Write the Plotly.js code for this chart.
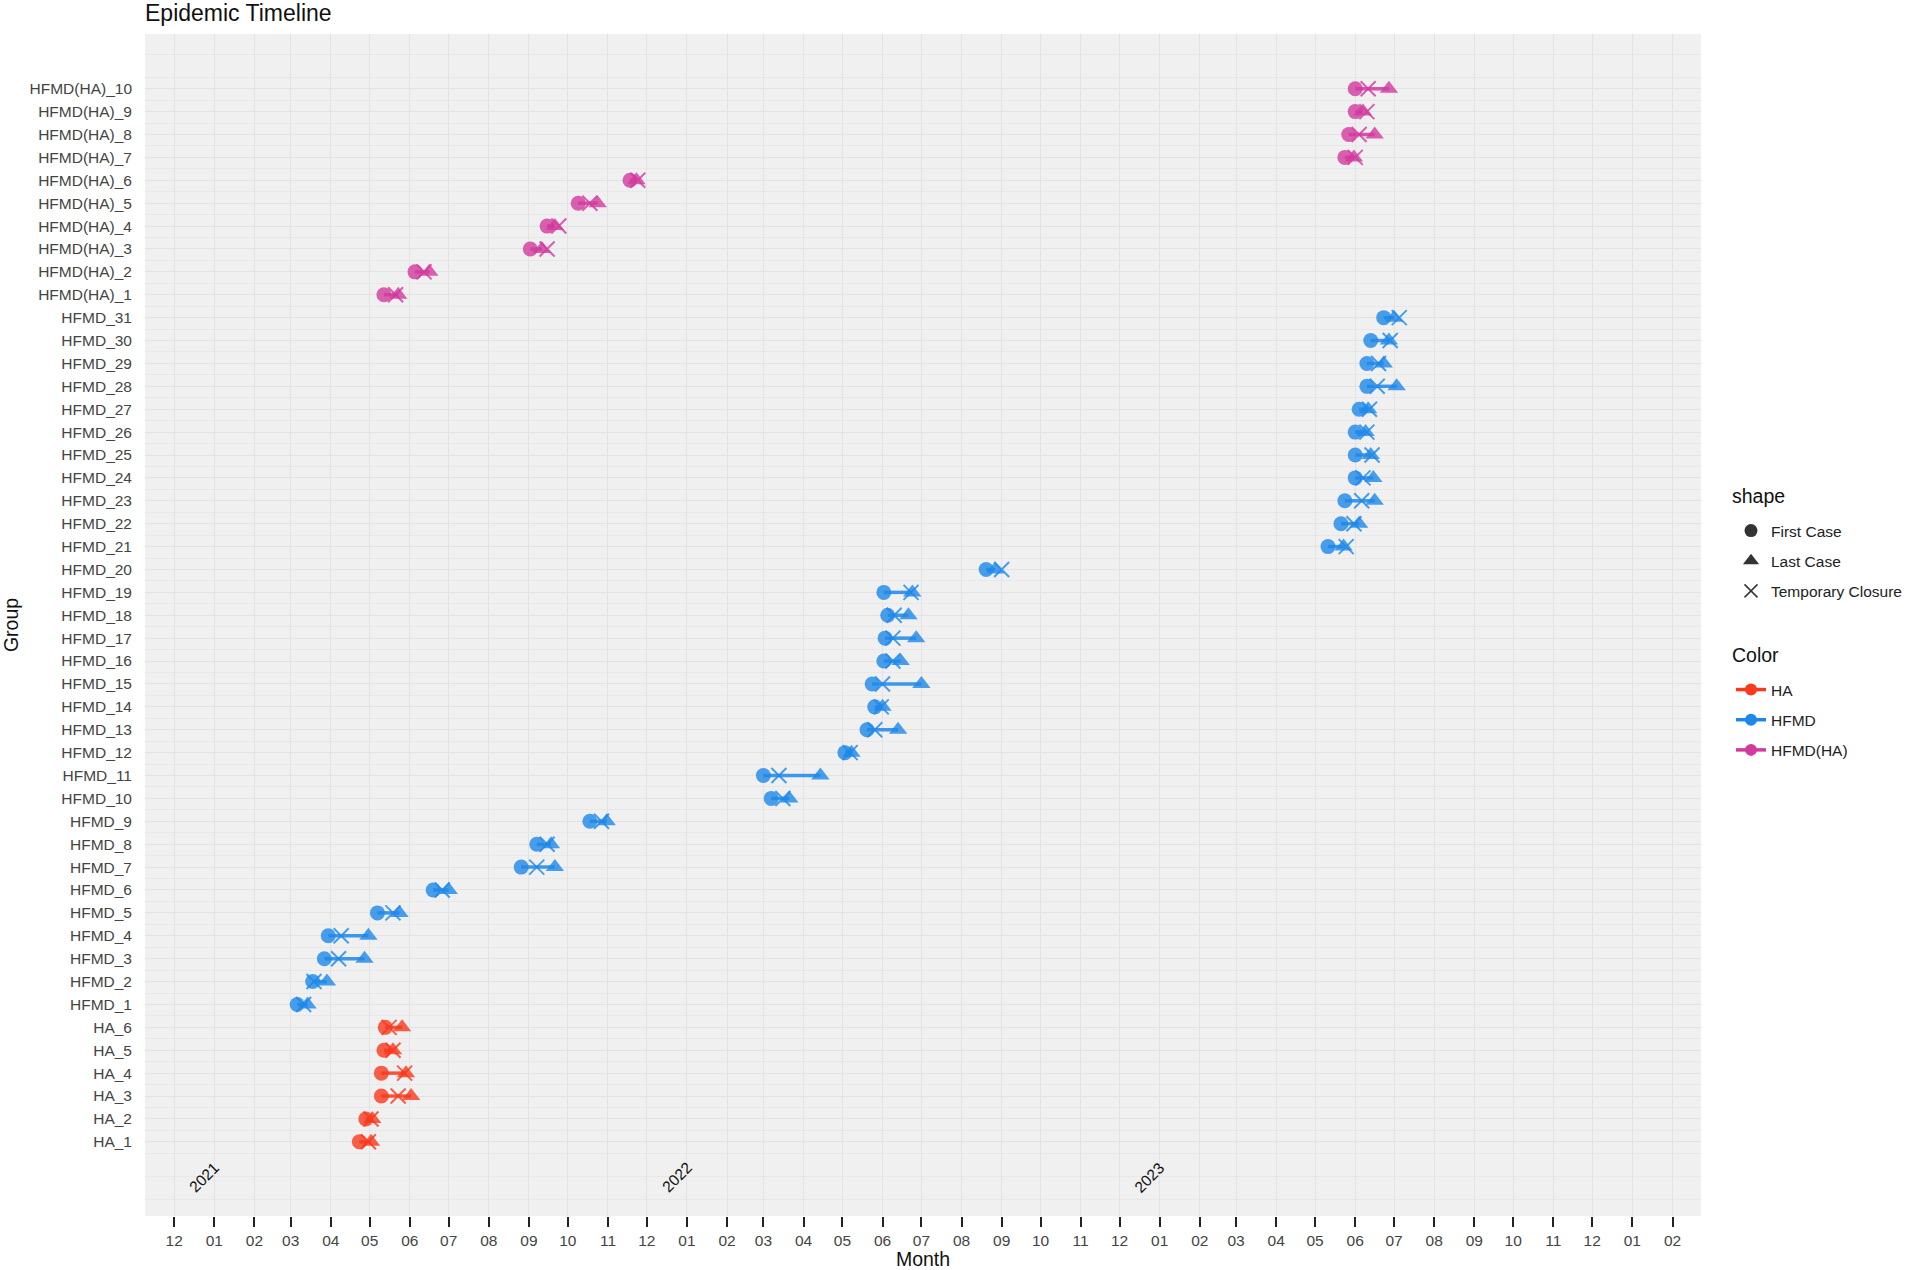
<!DOCTYPE html>
<html>
<head>
<meta charset="utf-8">
<script src="https://cdn.plot.ly/plotly-3.0.1.min.js"></script>
<style>html,body{margin:0;padding:0;background:#fff;}#chart{width:1907px;height:1270px;}</style>
</head>
<body>
<div id="chart"></div>
<script>
// ---------- data ----------
const haGroups = ['HA_1','HA_2','HA_3','HA_4','HA_5','HA_6'];
const haFirst  = ['2021-04-23','2021-04-28','2021-05-10','2021-05-10','2021-05-12','2021-05-13'];
const haClose  = ['2021-04-30','2021-05-02','2021-05-23','2021-05-28','2021-05-19','2021-05-16'];
const haLast   = ['2021-05-02','2021-05-03','2021-06-02','2021-05-29','2021-05-19','2021-05-26'];

const hfmdGroups = ['HFMD_1','HFMD_2','HFMD_3','HFMD_4','HFMD_5','HFMD_6','HFMD_7','HFMD_8','HFMD_9','HFMD_10',
  'HFMD_11','HFMD_12','HFMD_13','HFMD_14','HFMD_15','HFMD_16','HFMD_17','HFMD_18','HFMD_19','HFMD_20',
  'HFMD_21','HFMD_22','HFMD_23','HFMD_24','HFMD_25','HFMD_26','HFMD_27','HFMD_28','HFMD_29','HFMD_30','HFMD_31'];
const hfmdFirst = ['2021-03-06','2021-03-18','2021-03-27','2021-03-30','2021-05-07','2021-06-19','2021-08-26','2021-09-07','2021-10-18','2022-03-07',
  '2022-03-01','2022-05-03','2022-05-20','2022-05-26','2022-05-24','2022-06-02','2022-06-03','2022-06-05','2022-06-02','2022-08-20',
  '2023-05-11','2023-05-21','2023-05-24','2023-06-01','2023-06-01','2023-06-01','2023-06-04','2023-06-10','2023-06-10','2023-06-13','2023-06-23'];
const hfmdClose = ['2021-03-11','2021-03-19','2021-04-07','2021-04-09','2021-05-19','2021-06-26','2021-09-07','2021-09-15','2021-10-27','2022-03-16',
  '2022-03-13','2022-05-07','2022-05-26','2022-05-31','2022-06-01','2022-06-09','2022-06-09','2022-06-10','2022-06-23','2022-09-01',
  '2023-05-25','2023-05-31','2023-06-06','2023-06-07','2023-06-14','2023-06-10','2023-06-12','2023-06-18','2023-06-19','2023-06-28','2023-07-05'];
const hfmdLast  = ['2021-03-14','2021-03-29','2021-04-27','2021-04-30','2021-05-24','2021-07-01','2021-09-21','2021-09-18','2021-10-31','2022-03-21',
  '2022-04-14','2022-05-08','2022-06-13','2022-06-01','2022-07-01','2022-06-15','2022-06-27','2022-06-21','2022-06-24','2022-08-27',
  '2023-05-23','2023-06-04','2023-06-16','2023-06-15','2023-06-13','2023-06-09','2023-06-11','2023-07-03','2023-06-23','2023-06-27','2023-07-01'];

const mixGroups = ['HFMD(HA)_1','HFMD(HA)_2','HFMD(HA)_3','HFMD(HA)_4','HFMD(HA)_5','HFMD(HA)_6','HFMD(HA)_7','HFMD(HA)_8','HFMD(HA)_9','HFMD(HA)_10'];
const mixFirst  = ['2021-05-12','2021-06-05','2021-09-02','2021-09-15','2021-10-09','2021-11-18','2023-05-24','2023-05-27','2023-06-01','2023-06-01'];
const mixClose  = ['2021-05-21','2021-06-12','2021-09-15','2021-09-24','2021-10-18','2021-11-24','2023-06-01','2023-06-04','2023-06-10','2023-06-11'];
const mixLast   = ['2021-05-23','2021-06-16','2021-09-11','2021-09-21','2021-10-24','2021-11-23','2023-05-31','2023-06-16','2023-06-07','2023-06-27'];

const colorNames = ['HA','HFMD','HFMD(HA)'];
const shapeNames = ['First Case','Last Case','Temporary Closure'];
const yearLabels = ['2021','2022','2023'];

// ---------- styles ----------
const COLORS = {'HA':'#F8391E','HFMD':'#1E88EA','HFMD(HA)':'#D23A9E'};
const FONT = 'Liberation Sans, Arial, Helvetica, sans-serif';
const allGroups = haGroups.concat(hfmdGroups, mixGroups);
const yIndex = g => allGroups.indexOf(g);

const sets = [
  {name:'HA', groups:haGroups, first:haFirst, close:haClose, last:haLast},
  {name:'HFMD', groups:hfmdGroups, first:hfmdFirst, close:hfmdClose, last:hfmdLast},
  {name:'HFMD(HA)', groups:mixGroups, first:mixFirst, close:mixClose, last:mixLast}
];

const traces = [];
// segments
sets.forEach(s => {
  const xs = [], ys = [];
  s.groups.forEach((g,i) => { xs.push(s.first[i], s.last[i], null); ys.push(yIndex(g), yIndex(g), null); });
  traces.push({type:'scatter', mode:'lines', x:xs, y:ys, line:{color:COLORS[s.name], width:3.5},
    opacity:0.85, showlegend:false, hoverinfo:'skip'});
});
// points
const MS = 15, OP = 0.8;
sets.forEach(s => {
  const ys = s.groups.map(yIndex);
  traces.push({type:'scatter', mode:'markers', x:s.first, y:ys, showlegend:false,
    marker:{symbol:'circle', size:MS, color:COLORS[s.name], opacity:OP}});
});
sets.forEach(s => {
  const ys = s.groups.map(yIndex);
  traces.push({type:'scatter', mode:'markers', x:s.last, y:ys, showlegend:false,
    marker:{symbol:'triangle-up', size:MS+1, color:COLORS[s.name], opacity:OP}});
});
sets.forEach(s => {
  const ys = s.groups.map(yIndex);
  traces.push({type:'scatter', mode:'markers', x:s.close, y:ys, showlegend:false,
    marker:{symbol:'x-thin-open', size:MS, color:COLORS[s.name], opacity:OP, line:{color:COLORS[s.name], width:2}}});
});

// legend: shape
const shapeSymbols = ['circle','triangle-up','x-thin-open'];
shapeNames.forEach((n,i) => {
  traces.push({type:'scatter', mode:'markers', x:[null], y:[null], name:n, legend:'legend', legendgroup:'s'+i,
    marker:{symbol:shapeSymbols[i], size: i===1 ? 14 : 13, color:'#333333', line:{color:'#333333', width: i===2 ? 1.5 : 0}}});
});
// legend: color
colorNames.forEach((n,i) => {
  traces.push({type:'scatter', mode:'lines+markers', x:[null], y:[null], name:n, legend:'legend2', legendgroup:'c'+i,
    line:{color:COLORS[n], width:3.5}, marker:{symbol:'circle', size:12, color:COLORS[n]}});
});

const W = 1907, H = 1270;
const annotations = yearLabels.map(y => ({
  x: (Number(y)-1) + '-12-24', y: -1.56, xref:'x', yref:'y', text:y, showarrow:false,
  textangle:-45, font:{family:FONT, size:15.5, color:'#111'}
}));
// legend titles
annotations.push({text:'shape', xref:'paper', yref:'paper', x:(1730-145)/(W-145-206), y:1-(496-34)/(H-34-54),
  xanchor:'left', yanchor:'middle', showarrow:false, font:{family:FONT, size:19.5, color:'#111'}});
annotations.push({text:'Color', xref:'paper', yref:'paper', x:(1730-145)/(W-145-206), y:1-(655-34)/(H-34-54),
  xanchor:'left', yanchor:'middle', showarrow:false, font:{family:FONT, size:19.5, color:'#111'}});

const legendBase = {xref:'container', yref:'container', xanchor:'left', yanchor:'top', bgcolor:'rgba(0,0,0,0)',
  font:{family:FONT, size:15.5, color:'#222'}, tracegroupgap:7, itemsizing:'trace'};

const layout = {
  width:W, height:H,
  margin:{l:145, r:206, t:34, b:54},
  paper_bgcolor:'#ffffff', plot_bgcolor:'#F0F0F0',
  font:{family:FONT, color:'#222'},
  title:{text:'Epidemic Timeline', x:145/W, xref:'container', xanchor:'left', y:1-13/H, yref:'container', yanchor:'middle',
    font:{family:FONT, size:23, color:'#111'}},
  xaxis:{type:'date', range:['2020-11-08 12:00','2024-02-23'], tick0:'2020-12-01', dtick:'M1', tickformat:'%m',
    ticks:'outside', ticklen:10, tickwidth:2, tickcolor:'#222', showgrid:true, gridcolor:'#E3E3E3', gridwidth:1,
    zeroline:false, showline:false, tickfont:{family:FONT, size:15.5, color:'#444'},
    title:{text:'Month', font:{family:FONT, size:19.5, color:'#111'}, standoff:4}},
  yaxis:{range:[-3.24, 48.39], tickmode:'array', tickvals:allGroups.map((g,i)=>i), ticktext:allGroups,
    ticks:'', showgrid:true, gridcolor:'#E3E3E3', gridwidth:1, zeroline:false, showline:false,
    minor:{tickmode:'linear', tick0:0.5, dtick:1, showgrid:true, gridcolor:'#E8E8E8', gridwidth:1, ticks:''},
    ticklabelstandoff:12, tickfont:{family:FONT, size:15.5, color:'#444'},
    title:{text:'Group', font:{family:FONT, size:19.5, color:'#111'}, standoff:6}},
  legend:Object.assign({}, legendBase, {x:1731/W, y:1-514/H}),
  legend2:Object.assign({}, legendBase, {x:1731/W, y:1-673/H}),
  annotations:annotations,
  showlegend:true
};

Plotly.newPlot('chart', traces, layout, {displayModeBar:false, staticPlot:true});
</script>
</body>
</html>
